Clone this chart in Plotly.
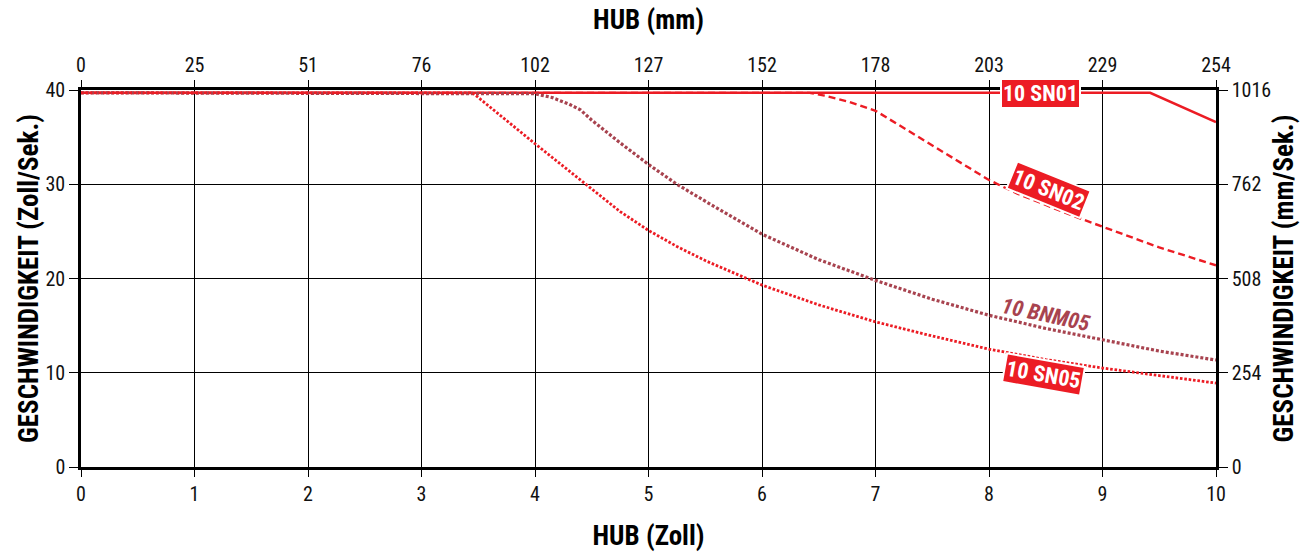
import plotly.graph_objects as go

# Stroke (inches) and speed (inches/second) for each actuator curve
sn01_x = [0, 9.42, 10]
sn01_y = [39.7, 39.7, 36.6]

sn02_x = [0, 6.42, 6.55, 6.75, 7.0, 7.5, 8.0, 8.25, 8.5, 8.75, 9.0, 9.5, 10]
sn02_y = [39.7, 39.7, 39.4, 38.8, 37.8, 34.1, 30.45, 29.0, 27.8, 26.6, 25.5, 23.3, 21.4]

bnm05_x = [0, 4.0, 4.15, 4.3, 4.4, 4.5, 4.75, 5.0, 5.25, 5.5, 6.0, 6.5, 7.0, 7.5, 8.0, 8.5, 9.0, 9.5, 10]
bnm05_y = [39.7, 39.6, 39.2, 38.5, 37.9, 36.8, 34.4, 32.1, 30.0, 28.2, 24.7, 22.0, 19.8, 17.8, 16.1, 14.7, 13.5, 12.3, 11.35]

sn05_x = [0, 3.45, 4.0, 4.5, 4.75, 5.0, 5.25, 5.5, 6.0, 6.5, 7.0, 7.5, 8.0, 8.5, 9.0, 9.5, 10]
sn05_y = [39.7, 39.7, 34.3, 29.5, 27.1, 25.1, 23.4, 21.9, 19.3, 17.2, 15.4, 13.9, 12.5, 11.4, 10.5, 9.7, 8.9]

# Axis tick values
inch_ticks = list(range(0, 11))
mm_ticks = [round(i * 25.4, 1) for i in inch_ticks]
mm_labels = [str(round(v)) for v in mm_ticks]
speed_ticks = [0, 10, 20, 30, 40]
speed_mm_ticks = [0, 254, 508, 762, 1016]

RED = "#ec1c24"
BROWN = "#a8434f"
FONT = "Liberation Sans Narrow, Arial Narrow, Roboto Condensed, Liberation Sans, sans-serif"

fig = go.Figure()
fig.add_trace(go.Scatter(x=sn01_x, y=sn01_y, mode="lines",
                         line=dict(color=RED, width=2.5), name="10 SN01"))
fig.add_trace(go.Scatter(x=sn02_x, y=sn02_y, mode="lines",
                         line=dict(color=RED, width=2.4, dash="7px,4px"), name="10 SN02"))
fig.add_trace(go.Scatter(x=bnm05_x, y=bnm05_y, mode="lines",
                         line=dict(color=BROWN, width=3.2, dash="3px,2px"), name="10 BNM05"))
fig.add_trace(go.Scatter(x=sn05_x, y=sn05_y, mode="lines",
                         line=dict(color=RED, width=2.8, dash="2.6px,1.8px"), name="10 SN05"))
# invisible traces to activate the secondary (mm) axes
fig.add_trace(go.Scatter(x=[0, 254], y=[None, None], xaxis="x2", yaxis="y", showlegend=False, hoverinfo="skip"))
fig.add_trace(go.Scatter(x=[None, None], y=[0, 1016], xaxis="x", yaxis="y2", showlegend=False, hoverinfo="skip"))

tickfont = dict(family=FONT, size=20, color="#111")
titlefont = dict(family=FONT, size=27, color="#000", weight="bold")

fig.update_layout(
    width=1310, height=552,
    margin=dict(l=81, r=94, t=90, b=85),
    paper_bgcolor="white", plot_bgcolor="white",
    showlegend=False,
    font=dict(family=FONT),
    xaxis=dict(range=[0, 10], tickvals=inch_ticks, ticks="outside", ticklen=7, automargin=False,
               tickcolor="#000", tickwidth=1, showgrid=True, gridcolor="#000", gridwidth=1,
               showline=True, linecolor="#000", linewidth=2.5, zeroline=False,
               tickfont=tickfont, title=dict(text="HUB (Zoll)", font=titlefont, standoff=22)),
    xaxis2=dict(range=[0, 254], overlaying="x", side="top", tickvals=mm_ticks, ticktext=mm_labels,
                ticks="outside", ticklen=7, tickcolor="#000", showgrid=False, zeroline=False,
                showline=True, linecolor="#000", linewidth=2.5, automargin=False,
                tickfont=tickfont, title=dict(text="HUB (mm)", font=titlefont, standoff=16)),
    yaxis=dict(range=[0, 40], tickvals=speed_ticks, ticks="outside", ticklen=9, automargin=False,
               tickcolor="#000", showgrid=True, gridcolor="#000", gridwidth=1,
               showline=True, linecolor="#000", linewidth=2.5, zeroline=False,
               tickfont=tickfont, title=dict(text="GESCHWINDIGKEIT (Zoll/Sek.)", font=titlefont, standoff=0)),
    yaxis2=dict(range=[0, 1016], overlaying="y", side="right", tickvals=speed_mm_ticks,
                ticks="outside", ticklen=9, tickcolor="#000", showgrid=False, zeroline=False,
                showline=True, linecolor="#000", linewidth=2.5, automargin=False,
                tickfont=tickfont, title=dict(text="GESCHWINDIGKEIT (mm/Sek.)", font=titlefont, standoff=4)),
)

label_font = dict(family=FONT, size=22, color="white", weight="bold")
boxed = dict(bgcolor=RED, bordercolor="white", borderwidth=2, borderpad=1, showarrow=False)
fig.add_annotation(x=8.45, y=39.6, text="10 SN01", font=label_font, **boxed)
fig.add_annotation(x=8.52, y=29.4, text="10 SN02", font=label_font, textangle=22, **boxed)
fig.add_annotation(x=8.48, y=9.8, text="10 SN05", font=label_font, textangle=10, **boxed)
fig.add_annotation(x=8.5, y=16.2, text="<i>10 BNM05</i>", showarrow=False, textangle=12,
                   font=dict(family=FONT, size=22, color=BROWN, weight="bold"))

fig.write_html("out.html")
